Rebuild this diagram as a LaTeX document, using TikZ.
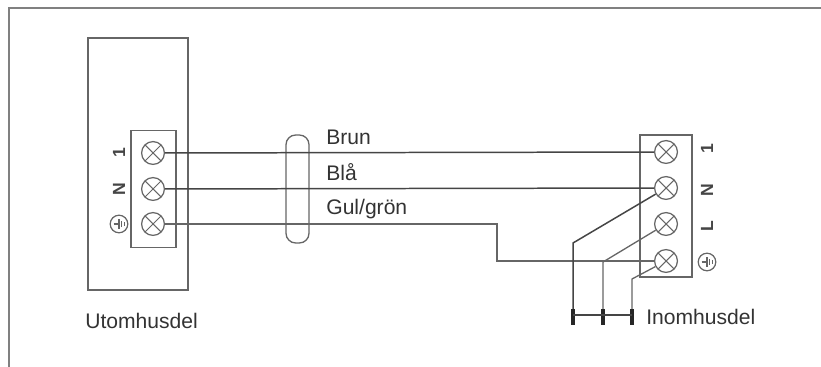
\documentclass[tikz,border=0pt]{standalone}
\usepackage{fontspec}
\setmainfont{Liberation Sans}
\usetikzlibrary{arrows.meta, positioning}
\definecolor{linegray}{gray}{0.4}
\definecolor{wiregray}{gray}{0.27}
\tikzset{
    screw/.style={circle, draw=linegray, line width=0.7pt, minimum size=13pt, inner sep=0pt,
        path picture={
            \draw[linegray, line width=0.6pt] (path picture bounding box.north west) -- (path picture bounding box.south east);
            \draw[linegray, line width=0.6pt] (path picture bounding box.north east) -- (path picture bounding box.south west);
        }},
    wire/.style={wiregray, line width=0.85pt},
    lightwire/.style={linegray, line width=0.75pt},
    casing/.style={draw=linegray, line width=0.95pt},
    tag/.style={rotate=90, font=\fontsize{10}{11}\selectfont\bfseries, text=wiregray, inner sep=0pt},
    earth/.style={circle, draw=linegray, line width=0.7pt, minimum size=10pt, inner sep=0pt,
        path picture={
            \draw[linegray, line width=0.6pt] ([xshift=-3pt]path picture bounding box.center) -- ++(3pt,0);
            \draw[linegray, line width=0.6pt] ([yshift=-2.6pt]path picture bounding box.center) -- ++(0,5.2pt);
            \draw[linegray, line width=0.6pt] ([xshift=1.5pt,yshift=-1.8pt]path picture bounding box.center) -- ++(0,3.6pt);
            \draw[linegray, line width=0.6pt] ([xshift=3pt,yshift=-1pt]path picture bounding box.center) -- ++(0,2pt);
        }},
    label text/.style={font=\fontsize{12}{14}\selectfont, text=black!80, inner sep=0pt, anchor=base west},
    tab/.style={line width=2.4pt, black!85}
}

\begin{document}
\begin{tikzpicture}[x=0.02cm, y=-0.02cm]
    \useasboundingbox (0,0) rectangle (821,367);

    % Ram
    \coordinate (framea) at (9,367);
    \coordinate (frameb) at (9,8);
    \coordinate (framec) at (821,8);
    \draw[gray, line width=1.1pt] (framea) -- (frameb) -- (framec);

    % Utomhusdel
    \node[casing, minimum width=100*0.02cm, minimum height=252*0.02cm, inner sep=0pt] (outdoor) at (138,164) {};
    \node[casing, minimum width=45*0.02cm, minimum height=117*0.02cm, inner sep=0pt] (outblock) at (153.5,189) {};
    \node[screw] (oa) at (153,153) {};
    \node[screw] (ob) at (153,189) {};
    \node[screw] (oc) at (153,224) {};
    \node[tag] (oaname) at (119,153) {1};
    \node[tag] (obname) at (119,189) {N};
    \node[earth] (ocname) at (119,224) {};
    \node[label text] (outname) at (85,329) {Utomhusdel};

    % Inomhusdel
    \node[casing, minimum width=52*0.02cm, minimum height=142*0.02cm, inner sep=0pt] (inblock) at (666,206) {};
    \node[screw] (ia) at (666,152) {};
    \node[screw] (ib) at (666,188) {};
    \node[screw] (ic) at (666,224) {};
    \node[screw] (id) at (666,261) {};
    \node[tag] (ianame) at (707,149) {1};
    \node[tag] (ibname) at (707,190) {N};
    \node[tag] (icname) at (707,226) {L};
    \node[earth] (idname) at (707,262) {};
    \node[label text] (inname) at (646,325) {Inomhusdel};

    % Kabelklamma
    \node[draw=linegray, line width=0.75pt, rounded corners=5.5pt, minimum width=23*0.02cm, minimum height=108*0.02cm, inner sep=0pt] (clamp) at (297.5,189) {};

    % Ledare
    \draw[wire] (oa) -- (ia);
    \draw[wire] (ob) -- (ib);
    \coordinate (bendb) at (497,224);
    \coordinate (bendc) at (497,261);
    \draw[lightwire] (oc) -- (bendb) -- (bendc) -- (id);

    % Kopplingsplint
    \coordinate (tapa) at (573,243);
    \coordinate (tapb) at (603,262);
    \coordinate (tapc) at (632,279);
    \coordinate (enda) at (573,325);
    \coordinate (endb) at (603,325);
    \coordinate (endc) at (632,325);
    \draw[wire] (ib) -- (tapa) -- (enda);
    \draw[lightwire] (ic) -- (tapb) -- (endb);
    \draw[lightwire] (id) -- (tapc) -- (endc);
    \coordinate (taba) at (573,309);
    \coordinate (tabb) at (603,309);
    \coordinate (tabc) at (632,309);
    \draw[tab] (taba) -- (enda);
    \draw[tab] (tabb) -- (endb);
    \draw[tab] (tabc) -- (endc);
    \coordinate (linka) at (573,315);
    \coordinate (linkb) at (632,315);
    \draw[wire] (linka) -- (linkb);

    % Ledarnas farger
    \node[label text] (brown) at (326,145) {Brun};
    \node[label text] (blue) at (326,181) {Blå};
    \node[label text] (yellow) at (326,215) {Gul/grön};
\end{tikzpicture}
\end{document}
